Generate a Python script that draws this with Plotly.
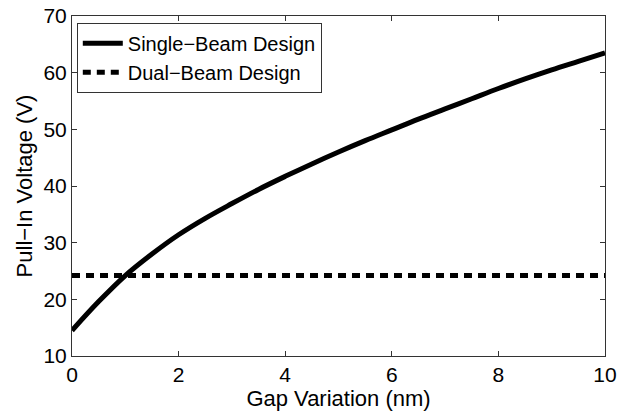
import plotly.graph_objects as go

gap_nm = [0, 0.5, 1, 1.5, 2, 2.5, 3, 3.5, 4, 4.5, 5, 5.5, 6, 6.5, 7, 7.5, 8, 8.5, 9, 9.5, 10]
single_beam_v = [14.5, 19.6, 24.2, 28.0, 31.4, 34.3, 36.9, 39.4, 41.7, 43.9, 46.0, 48.0,
                 49.9, 51.8, 53.6, 55.4, 57.2, 58.9, 60.5, 62.0, 63.5]
dual_x = [0, 10]
dual_beam_v = [24.2, 24.2]

x_ticks = [0, 2, 4, 6, 8, 10]
y_ticks = [10, 20, 30, 40, 50, 60, 70]

FONT = "Liberation Sans, Arial, Helvetica, sans-serif"

fig = go.Figure()
fig.add_trace(go.Scatter(x=gap_nm, y=single_beam_v, mode="lines",
                         name="Single\u2212Beam Design",
                         line=dict(color="black", width=5, shape="spline", smoothing=1.0)))
fig.add_trace(go.Scatter(x=dual_x, y=dual_beam_v, mode="lines",
                         name="Dual\u2212Beam Design",
                         line=dict(color="black", width=5, dash="8px,6px")))

axis_common = dict(showline=True, linecolor="#333333", linewidth=1, mirror="ticks",
                   ticks="inside", ticklen=5, tickcolor="#333333", tickwidth=1,
                   showgrid=False, zeroline=False, automargin=False,
                   tickfont=dict(family=FONT, size=21, color="black"))

fig.update_layout(
    width=627, height=412,
    margin=dict(l=72, r=22, t=16, b=56),
    paper_bgcolor="white", plot_bgcolor="white",
    font=dict(family=FONT, color="black"),
    xaxis=dict(range=[0, 10], tickvals=x_ticks,
               title=dict(text="Gap Variation (nm)", font=dict(family=FONT, size=22), standoff=0),
               **axis_common),
    yaxis=dict(range=[10, 70], tickvals=y_ticks,
               title=dict(text="Pull\u2212In Voltage (V)", font=dict(family=FONT, size=22), standoff=4),
               **axis_common),
    legend=dict(x=0.009, y=0.98, xanchor="left", yanchor="top",
                bgcolor="white", bordercolor="#333333", borderwidth=1,
                font=dict(family=FONT, size=20, color="black"),
                tracegroupgap=0, itemwidth=40),
    showlegend=True,
)

fig.write_html("out.html", config={"displayModeBar": False},
               post_script="document.body.style.margin='0';")
